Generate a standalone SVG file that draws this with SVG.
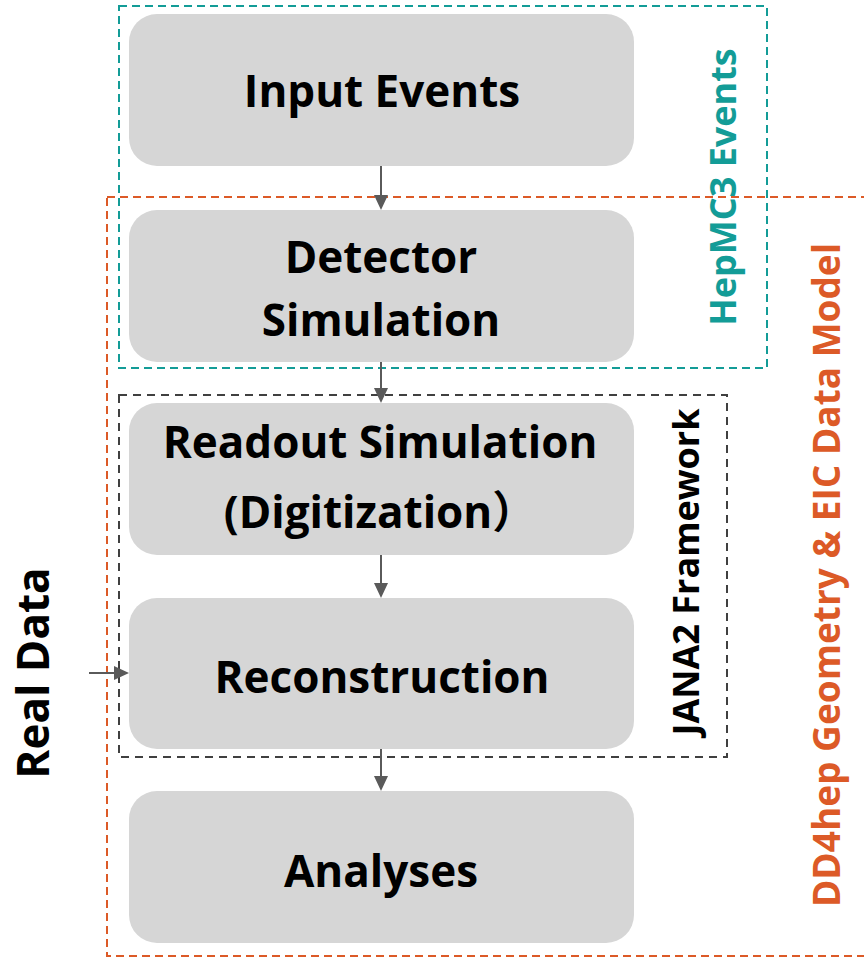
<svg xmlns="http://www.w3.org/2000/svg" width="864" height="957" viewBox="0 0 864 957">
  <defs>
    <style>
      .node rect { fill: #D6D6D6; }
      .lbl { font-family: "Open Sans", "Liberation Sans", "Noto Sans CJK SC", sans-serif; font-weight: bold; fill: #000; text-anchor: middle; }
      .box { fill: none; stroke-width: 2; }
      .head { fill: #5A5A5A; stroke: none; }
    </style>
  </defs>

  <g id="nodes">
    <g id="input-events" class="node">
      <rect x="129" y="14" width="505" height="152" rx="28"/>
      <text class="lbl" x="382" y="107" font-size="44">Input Events</text>
    </g>
    <g id="detector-simulation" class="node">
      <rect x="129" y="210" width="505" height="152" rx="28"/>
      <text class="lbl" x="381" y="273" font-size="44">Detector</text>
      <text class="lbl" x="381" y="336" font-size="44">Simulation</text>
    </g>
    <g id="readout-simulation" class="node">
      <rect x="129" y="403" width="505" height="152" rx="28"/>
      <text class="lbl" x="380" y="458" font-size="44">Readout Simulation</text>
      <text class="lbl" x="380" y="528" font-size="44">(Digitization）</text>
    </g>
    <g id="reconstruction" class="node">
      <rect x="129" y="598" width="505" height="151" rx="28"/>
      <text class="lbl" x="382" y="693" font-size="44">Reconstruction</text>
    </g>
    <g id="analyses" class="node">
      <rect x="129" y="791" width="505" height="152" rx="28"/>
      <text class="lbl" x="381" y="887" font-size="44">Analyses</text>
    </g>
  </g>

  <g id="groups">
    <rect id="hepmc3-box" class="box" x="119" y="6" width="648" height="362" stroke="#139C97" stroke-dasharray="8,5"/>
    <rect id="dd4hep-box" class="box" x="107" y="197" width="760" height="759" stroke="#DC5A27" stroke-dasharray="8,5"/>
    <rect id="jana2-box" class="box" x="119" y="395" width="608" height="362" stroke="#404040" stroke-dasharray="8,6"/>
    <text class="lbl" transform="translate(736 187) rotate(-90)" font-size="36" style="fill:#139C97">HepMC3 Events</text>
    <text class="lbl" transform="translate(699 572) rotate(-90)" font-size="36">JANA2 Framework</text>
    <text class="lbl" transform="translate(840 575) rotate(-90)" font-size="37" style="fill:#DC5A27">DD4hep Geometry &amp; EIC Data Model</text>
    <text class="lbl" transform="translate(49 673) rotate(-90)" font-size="44">Real Data</text>
  </g>

  <g id="connectors" stroke="#5A5A5A" stroke-width="2" fill="none">
    <line x1="381" y1="166" x2="381" y2="196"/>
    <line x1="381" y1="362" x2="381" y2="389"/>
    <line x1="381" y1="555" x2="381" y2="584"/>
    <line x1="381" y1="749" x2="381" y2="777"/>
    <line x1="89" y1="673" x2="115" y2="673"/>
    <path class="head" d="M374,195 L388,195 L381,210 Z"/>
    <path class="head" d="M374,388 L388,388 L381,403 Z"/>
    <path class="head" d="M374,583 L388,583 L381,598 Z"/>
    <path class="head" d="M374,776 L388,776 L381,791 Z"/>
    <path class="head" d="M114,666 L114,680 L129,673 Z"/>
  </g>
</svg>
